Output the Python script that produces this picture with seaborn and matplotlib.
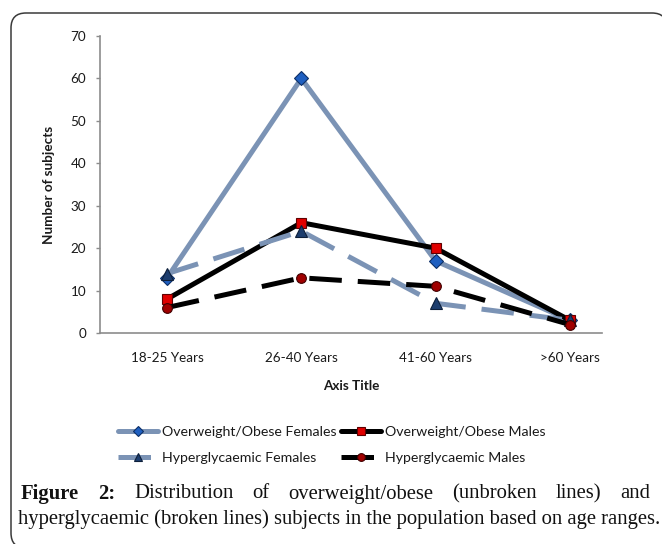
import matplotlib
matplotlib.use("Agg")
import matplotlib.pyplot as plt
import seaborn as sns
from matplotlib.path import Path
from matplotlib.patches import PathPatch

# data
age_groups = ["18-25 Years", "26-40 Years", "41-60 Years", ">60 Years"]
obese_females = [13, 60, 17, 3]
obese_males = [8, 26, 20, 3]
hyper_females = [14, 24, 7, 3]
hyper_males = [6, 13, 11, 2]
y_ticks = [0, 10, 20, 30, 40, 50, 60, 70]

sns.set_theme(style="white")
plt.rcParams["font.family"] = ["Lato", "DejaVu Sans"]

W, H = 662, 544
fig = plt.figure(figsize=(W / 100, H / 100), dpi=100)
ax = fig.add_axes([100 / W, (H - 333) / H, 502 / W, 297 / H])

blue_gray = "#7b93b5"
lw = 3.6
fs = 9.7

sns.lineplot(x=age_groups, y=obese_females, ax=ax, color=blue_gray, lw=lw,
             marker="D", markersize=7, markerfacecolor="#1f5fc0",
             markeredgecolor="#0d2f66", markeredgewidth=0.8,
             label="Overweight/Obese Females", sort=False)
sns.lineplot(x=age_groups, y=obese_males, ax=ax, color="black", lw=lw,
             marker="s", markersize=7, markerfacecolor="#e00000",
             markeredgecolor="#600000", markeredgewidth=0.8,
             label="Overweight/Obese Males", sort=False)
sns.lineplot(x=age_groups, y=hyper_females, ax=ax, color=blue_gray, lw=lw,
             marker="^", markersize=8, markerfacecolor="#1c3d6e",
             markeredgecolor="#0d1f3a", markeredgewidth=0.8,
             label="Hyperglycaemic Females", sort=False)
ax.lines[-1].set_dashes((6.5, 3.2))
sns.lineplot(x=age_groups, y=hyper_males, ax=ax, color="black", lw=lw,
             marker="o", markersize=7, markerfacecolor="#a00000",
             markeredgecolor="#400000", markeredgewidth=0.8,
             label="Hyperglycaemic Males", sort=False)
ax.lines[-1].set_dashes((6.5, 3.2))

ax.set_xlim(-0.5, 3.24)
ax.set_ylim(0, 70)
ax.set_yticks(y_ticks)
ax.grid(False)
for s in ["top", "right"]:
    ax.spines[s].set_visible(False)
for s in ["left", "bottom"]:
    ax.spines[s].set_color("#8c8c8c")
    ax.spines[s].set_linewidth(1.2)
ax.tick_params(axis="y", length=3, width=1, color="#8c8c8c", pad=7,
               labelsize=fs, labelcolor="#1a1a1a", left=True)
ax.tick_params(axis="x", length=0, pad=14, labelsize=fs, labelcolor="#1a1a1a")
ax.set_xlabel("Axis Title", fontsize=fs, fontweight="bold", labelpad=11, color="#1a1a1a")
ax.set_ylabel("Number of subjects", fontsize=fs, fontweight="bold", labelpad=11, color="#1a1a1a")

h, l = ax.get_legend_handles_labels()
ax.get_legend().remove()
order = [0, 2, 1, 3]
fig.legend([h[i] for i in order], [l[i] for i in order], ncol=2, loc="center",
           bbox_to_anchor=(332 / W, (H - 445) / H), frameon=False,
           fontsize=10.2, handlelength=2.8, handletextpad=0.3, markerscale=0.8,
           columnspacing=0.3, labelspacing=1.0, labelcolor="#1a1a1a")

# rounded frame around the figure (pixel coordinates, y up)
L, T, R, B, rad = 11, H - 13, 667, -4, 15
verts = [(R, B), (R, T - rad), (R, T), (R - rad, T), (L + rad, T), (L, T), (L, T - rad),
         (L, B + rad), (L, B), (L + rad, B)]
codes = [Path.MOVETO, Path.LINETO, Path.CURVE3, Path.CURVE3, Path.LINETO, Path.CURVE3,
         Path.CURVE3, Path.LINETO, Path.CURVE3, Path.CURVE3]
fig.patches.append(PathPatch(Path(verts, codes), transform=None, fill=False,
                             edgecolor="#3a3a3a", lw=1.1))

# caption, first line justified
serif = ["Liberation Serif", "DejaVu Serif"]
cap_size = 14.85
r = fig.canvas.get_renderer()
words = [("Figure", "bold"), ("2:", "bold"), ("Distribution", "normal"), ("of", "normal"),
         ("overweight/obese", "normal"), ("(unbroken", "normal"), ("lines)", "normal"),
         ("and", "normal")]
texts = [fig.text(0, (H - 494) / H, w, family=serif, fontsize=cap_size, fontweight=fw,
                  va="center", color="#111111") for w, fw in words]
widths = [t.get_window_extent(r).width for t in texts]
x0, x1 = 21, 650
gap = (x1 - x0 - sum(widths)) / (len(words) - 1)
x = x0
for t, wd in zip(texts, widths):
    t.set_x(x / W)
    x += wd + gap
fig.text(18 / W, (H - 519) / H,
         "hyperglycaemic (broken lines) subjects in the population based on age ranges.",
         family=serif, fontsize=cap_size, va="center", color="#111111")

fig.savefig("out.png", dpi=100)
